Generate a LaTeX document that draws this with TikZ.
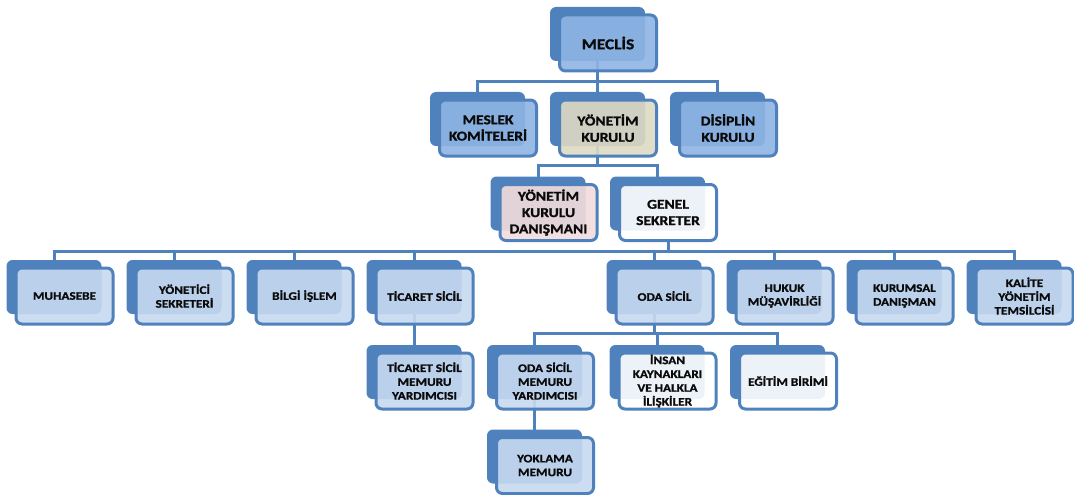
\documentclass[tikz,border=0pt]{standalone}
\usepackage{fontspec}
\setmainfont{Carlito}[FakeStretch=1.15]
\newfontfamily\orgfont{Carlito}[FakeStretch=1.15,FakeBold=1.2]
\usetikzlibrary{calc,backgrounds}
\definecolor{bk}{HTML}{4F81BD}
\definecolor{fblue}{HTML}{8EB4E3}
\definecolor{flight}{HTML}{C6D9F1}
\definecolor{ftan}{HTML}{DDD9C3}
\definecolor{fpink}{HTML}{F2DCDB}
\definecolor{txt}{HTML}{0A0A0A}
\newcommand\orgunit[5]{%
  \node[backbox] (#1B) at (#2) {};
  \node[frontbox,fill=#3,#4] (#1) at ($(#1B)+(10.5,9)$) {#5};}
\newcommand\orglink[3]{\draw[conn] (#1) |- ([yshift=#3]#2B.north) -- (#2B.north);}
\begin{document}
\begin{tikzpicture}[x=1pt,y=-1pt,
  backbox/.style={fill=bk, rounded corners=6pt, minimum width=95pt, minimum height=54pt, inner sep=0pt, outer sep=0pt},
  frontbox/.style={draw=bk, line width=3pt, rounded corners=6pt, minimum width=97pt, minimum height=56pt,
    inner sep=1pt, outer sep=0pt, fill opacity=0.9, text opacity=1, align=center, text=txt,
    font=\orgfont\bfseries\fontsize{11.5}{13.8}\selectfont},
  lvtop/.style={font=\orgfont\bfseries\fontsize{15}{17}\selectfont},
  lvmid/.style={font=\orgfont\bfseries\fontsize{13.5}{16.3}\selectfont},
  conn/.style={draw=bk, line width=3pt}]
\useasboundingbox (0,0) rectangle (1074,495);
% level 0
\orgunit{mc}{597.5,34}{fblue}{lvtop}{MECLİS}
% level 1
\orgunit{mk}{477.5,119}{fblue}{lvmid}{MESLEK\\KOMİTELERİ}
\orgunit{yk}{597.5,119}{ftan}{lvmid}{YÖNETİM\\KURULU}
\orgunit{dk}{717.5,119}{fblue}{lvmid}{DİSİPLİN\\KURULU}
% level 2
\orgunit{ykd}{538,203.5}{fpink}{lvmid}{YÖNETİM\\KURULU\\DANIŞMANI}
\orgunit{gs}{657.5,203.5}{white}{lvmid}{GENEL\\SEKRETER}
% level 3
\orgunit{mu}{54,287}{flight}{}{MUHASEBE}
\orgunit{ys}{174,287}{flight}{}{YÖNETİCİ\\SEKRETERİ}
\orgunit{bi}{294,287}{flight}{}{BİLGİ İŞLEM}
\orgunit{ts}{414,287}{flight}{}{TİCARET SİCİL}
\orgunit{os}{654,287}{flight}{}{ODA SİCİL}
\orgunit{hm}{774,287}{flight}{}{HUKUK\\MÜŞAVİRLİĞİ}
\orgunit{kd}{894,287}{flight}{}{KURUMSAL\\DANIŞMAN}
\orgunit{kt}{1014,287}{flight}{}{KALİTE\\YÖNETİM\\TEMSİLCİSİ}
% level 4
\orgunit{tsm}{414,372}{flight}{}{TİCARET SİCİL\\MEMURU\\YARDIMCISI}
\orgunit{osm}{534.5,372}{flight}{}{ODA SİCİL\\MEMURU\\YARDIMCISI}
\orgunit{ik}{657,372}{white}{}{İNSAN\\KAYNAKLARI\\VE HALKLA\\İLİŞKİLER}
\orgunit{eb}{777.5,372}{white}{}{EĞİTİM BİRİMİ}
% level 5
\orgunit{ym}{534.5,456.5}{flight}{}{YOKLAMA\\MEMURU}
\begin{pgfonlayer}{background}
\orglink{mcB.south}{mk}{10pt}
\orglink{mcB.south}{yk}{10pt}
\orglink{mcB.south}{dk}{10pt}
\orglink{ykB.south}{ykd}{11.5pt}
\orglink{ykB.south}{gs}{11.5pt}
\foreach \c in {mu,ys,bi,ts,os,hm,kd,kt}{\orglink{gs.south}{\c}{9pt}}
\orglink{tsB.south}{tsm}{12pt}
\orglink{osB.south}{osm}{12pt}
\orglink{osB.south}{ik}{12pt}
\orglink{osB.south}{eb}{12pt}
\orglink{osmB.south}{ym}{12pt}
\end{pgfonlayer}
\end{tikzpicture}
\end{document}
